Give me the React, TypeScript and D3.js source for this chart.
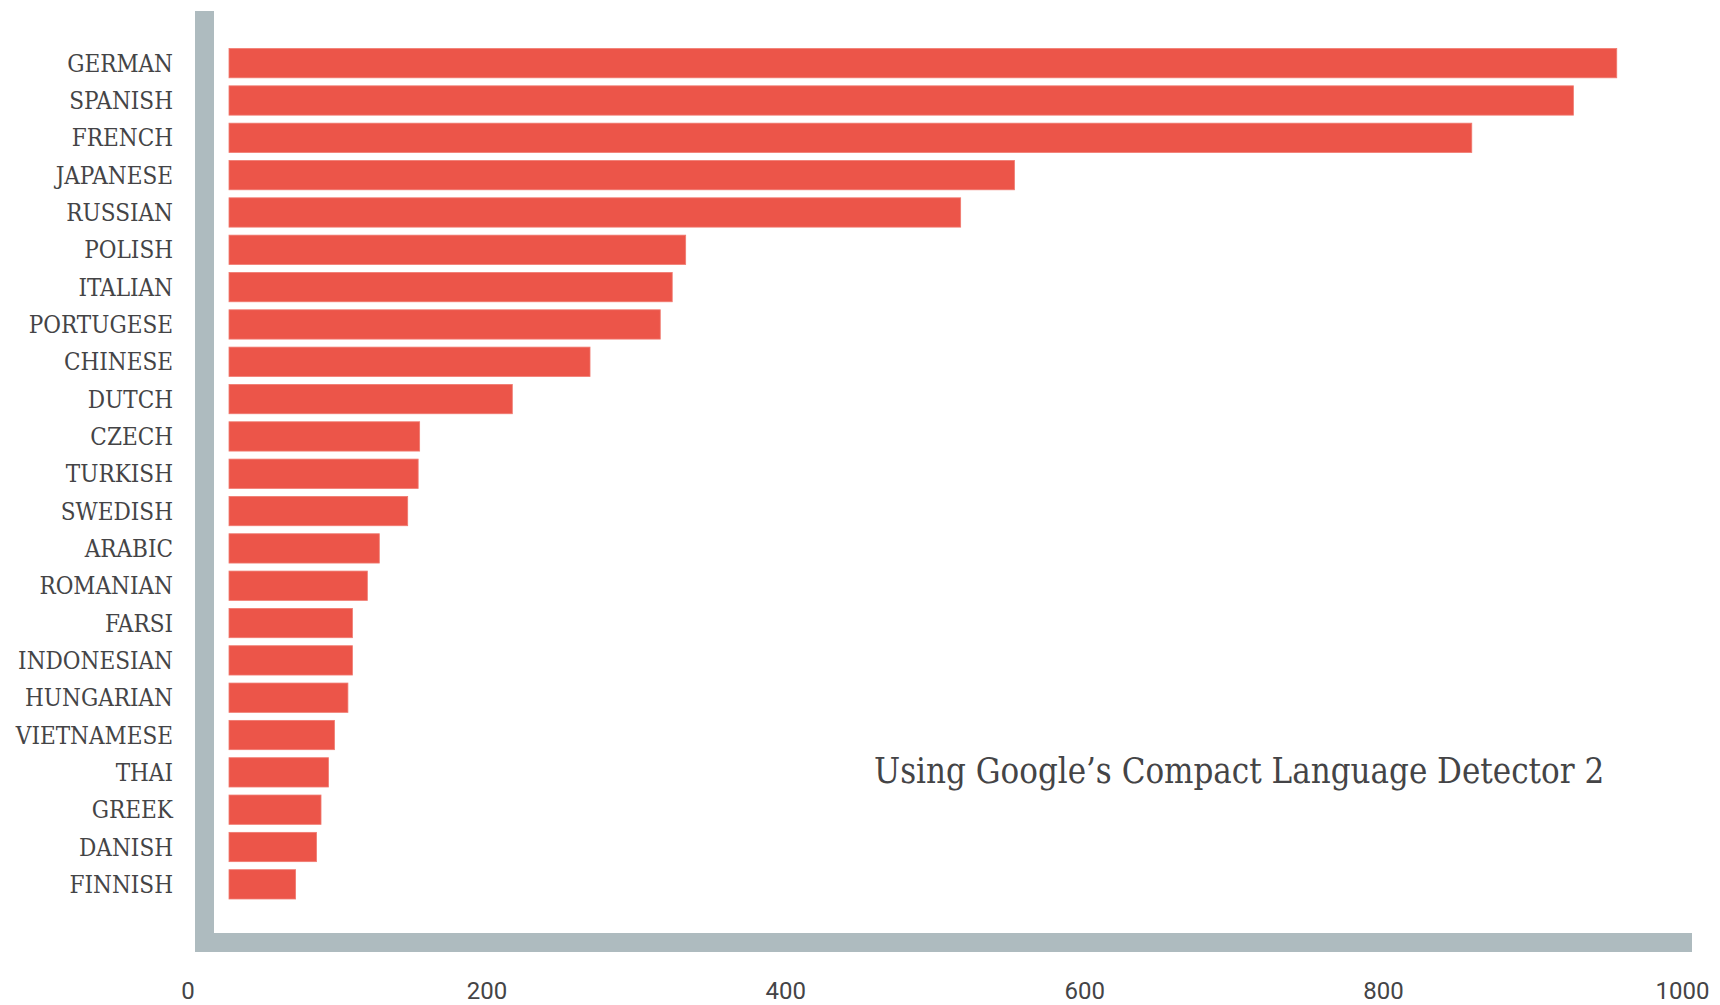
import { useMemo } from "react";
import * as d3 from "d3";

// CLD2 detections per language.
const languages = [
  "GERMAN",
  "SPANISH",
  "FRENCH",
  "JAPANESE",
  "RUSSIAN",
  "POLISH",
  "ITALIAN",
  "PORTUGESE",
  "CHINESE",
  "DUTCH",
  "CZECH",
  "TURKISH",
  "SWEDISH",
  "ARABIC",
  "ROMANIAN",
  "FARSI",
  "INDONESIAN",
  "HUNGARIAN",
  "VIETNAMESE",
  "THAI",
  "GREEK",
  "DANISH",
  "FINNISH",
];
const counts = [
  956, 927, 859, 553, 517, 333, 324, 316, 269, 217, 155, 154, 147, 128, 120,
  110, 110, 107, 98, 94, 89, 86, 72,
];
const xTicks = [0, 200, 400, 600, 800, 1000];
const note = "Using Google\u2019s Compact Language Detector 2";

const W = 1720;
const H = 1005;
const RED = "#ec5549";
const AXIS = "#aebbbf";
const INK = "#444446";
const SLAB = "'DejaVu Serif Condensed', 'DejaVu Serif', serif";

export default function App() {
  const x = useMemo(
    () => d3.scaleLinear().domain([0, 1000]).range([188, 1682.5]),
    [],
  );
  const y = useMemo(
    () =>
      d3
        .scaleBand<string>()
        .domain(languages)
        .range([44.5, 903])
        .paddingInner(0.215)
        .paddingOuter(0.1075),
    [],
  );

  // bars start a little right of the thick axis, end at x(value)
  const barStart = x(0) + 41;
  const axisLeft = 195;
  const axisW = 19;
  const baseTop = 933;

  return (
    <>
      <style>{`body{margin:0;background:#fff}`}</style>
      <svg width={W} height={H} style={{ display: "block" }}>
        <rect width={W} height={H} fill="#fff" />

        {/* thick L-shaped axis */}
        <rect x={axisLeft} y={11} width={axisW} height={baseTop + axisW - 11} fill={AXIS} />
        <rect x={axisLeft} y={baseTop} width={1692 - axisLeft} height={axisW} fill={AXIS} />

        {languages.map((lang, i) => (
          <g key={lang}>
            <rect
              x={barStart}
              y={y(lang)}
              width={x(counts[i]) - barStart}
              height={y.bandwidth()}
              fill={RED}
              stroke="#f07a70"
              strokeWidth={0.8}
            />
            <text
              x={173}
              y={(y(lang) ?? 0) + y.bandwidth() / 2}
              dy="0.36em"
              textAnchor="end"
              fill={INK}
              style={{ fontFamily: SLAB, fontSize: 24 }}
            >
              {lang}
            </text>
          </g>
        ))}

        {xTicks.map((t) => (
          <text
            key={t}
            x={x(t)}
            y={999}
            textAnchor="middle"
            fill={INK}
            style={{ fontFamily: "Roboto, sans-serif", fontSize: 24 }}
          >
            {t}
          </text>
        ))}

        <text
          x={874}
          y={783}
          fill={INK}
          style={{ fontFamily: SLAB, fontSize: 34.5 }}
        >
          {note}
        </text>
      </svg>
    </>
  );
}
